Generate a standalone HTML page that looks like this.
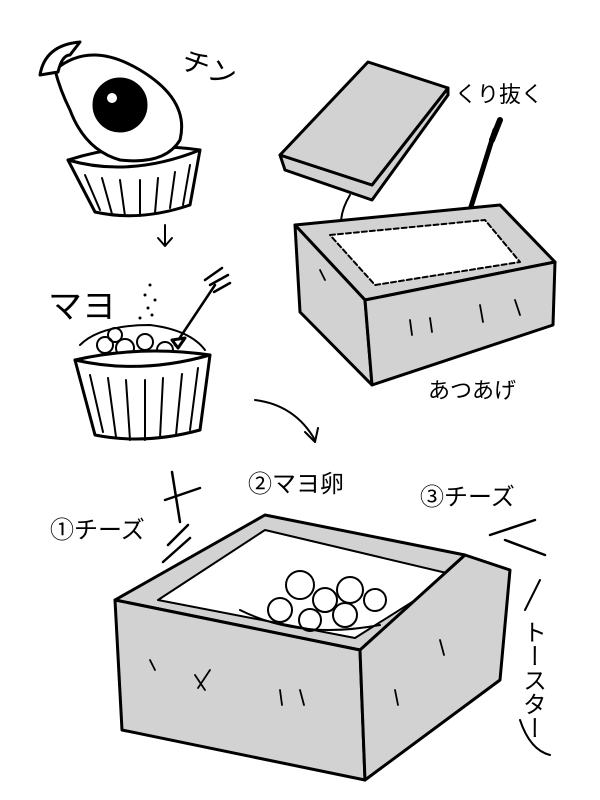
<!DOCTYPE html>
<html><head><meta charset="utf-8"><style>
html,body{margin:0;padding:0;background:#fff;width:600px;height:800px;overflow:hidden}
text{font-family:"Liberation Sans","Noto Sans CJK JP",sans-serif;fill:#000}
</style></head><body>
<svg width="600" height="800" viewBox="0 0 600 800" xmlns="http://www.w3.org/2000/svg" fill="none" stroke="#000" stroke-width="3" stroke-linecap="round" stroke-linejoin="round">
<!-- cup 1 -->
<path d="M68 160 Q130 140 200 150 L190 205 Q140 222 95 212 Z" fill="#fff"/>
<path d="M68 160 Q130 178 200 150" />
<g stroke-width="2"><path d="M85 175 L100 210 M102 178 L112 214 M120 180 L125 216 M140 180 L140 216 M158 178 L155 213 M175 172 L170 208 M190 165 L183 205"/></g>
<!-- egg -->
<path d="M55 70 Q90 40 140 70 Q190 100 180 140 Q165 165 120 160 Q85 150 70 110 Q60 90 55 70 Z" fill="#fff"/>
<circle cx="120" cy="105" r="26" fill="#000"/>
<circle cx="112" cy="98" r="5" fill="#fff" stroke="none"/>
<path d="M40 75 Q45 45 80 42 L70 55 Q62 55 58 72 Z" fill="#fff"/>
<text x="180" y="75" font-size="28" stroke="none" transform="rotate(20 200 70)">チン</text>
<path d="M165 225 L165 245 M158 238 L165 246 L172 238" stroke-width="2"/>
<!-- mayo cup -->
<text x="48" y="318" font-size="34" stroke="none">マヨ</text>
<g fill="#000" stroke="none"><circle cx="150" cy="285" r="1.5"/><circle cx="145" cy="295" r="1.5"/><circle cx="155" cy="300" r="1.5"/><circle cx="148" cy="308" r="1.5"/><circle cx="140" cy="318" r="1.5"/><circle cx="152" cy="315" r="1.5"/></g>
<path d="M80 345 Q100 325 150 325 Q190 330 205 350" fill="#fff" stroke-width="2"/>
<g stroke-width="2"><circle cx="105" cy="345" r="8"/><circle cx="125" cy="348" r="9"/><circle cx="145" cy="342" r="8"/><circle cx="165" cy="350" r="8"/><circle cx="115" cy="335" r="7"/></g>
<path d="M75 360 Q140 345 210 355 L200 430 Q145 445 95 435 Z" fill="#fff"/>
<path d="M75 360 Q140 375 210 355"/>
<g stroke-width="2"><path d="M90 375 L103 432 M108 378 L116 437 M126 380 L130 440 M145 380 L145 440 M163 378 L160 438 M182 374 L176 435 M198 368 L190 430"/></g>
<path d="M175 345 L215 285 M205 280 L222 268 M210 285 L228 275 M214 292 L230 283" stroke-width="2.5"/>
<path d="M172 340 L178 348 L185 338 Z" fill="#fff"/>
<!-- lid -->
<path d="M280 155 L285 170 L372 200 L448 95 L448 88 L372 185 Z" fill="#d2d2d2"/>
<path d="M280 155 L368 62 L448 88 L372 185 Z" fill="#d2d2d2"/>
<text x="455" y="102" font-size="22" stroke="none">くり抜く</text>
<path d="M470 210 L495 130" stroke-width="5"/>
<path d="M492 140 L500 120" stroke-width="6"/>
<path d="M350 195 Q335 220 345 240" stroke-width="2"/>
<!-- small box -->
<path d="M295 225 L500 205 L555 262 L365 300 Z" fill="#d2d2d2"/>
<path d="M330 235 L485 220 L520 262 L375 285 Z" fill="#fff" stroke-width="2" stroke-dasharray="5 3"/>
<path d="M295 225 L365 300 L372 385 L300 312 Z" fill="#d2d2d2"/>
<path d="M365 300 L555 262 L553 325 L372 385 Z" fill="#d2d2d2"/>
<g stroke-width="1.8"><path d="M410 320 L412 335 M430 318 L432 332 M480 305 L483 322 M515 300 L520 315 M320 270 L325 280"/></g>
<text x="428" y="398" font-size="22" stroke="none">あつあげ</text>
<!-- curved arrow -->
<path d="M255 400 Q295 405 315 440 M305 432 L315 442 L318 428" stroke-width="2"/>
<!-- labels -->
<text x="248" y="492" font-size="24" stroke="none">②マヨ卵</text>
<text x="420" y="505" font-size="24" stroke="none">③チーズ</text>
<text x="50" y="538" font-size="24" stroke="none">①チーズ</text>
<path d="M172 472 L180 522 M165 500 L200 488 M168 545 L188 525 M163 562 L190 538" stroke-width="2.5"/>
<path d="M490 535 L535 520 M505 540 L545 555" stroke-width="2.5"/>
<!-- big box -->
<path d="M115 600 L265 515 L465 555 L360 650 Z" fill="#d2d2d2"/>
<path d="M158 600 L265 530 L455 575 L355 638 Z" fill="#fff" stroke-width="2"/>
<path d="M115 600 L360 650 L365 780 L122 730 Z" fill="#d2d2d2"/>
<path d="M360 650 L465 555 L510 570 L500 680 L365 780 Z" fill="#d2d2d2"/>
<g stroke-width="2"><circle cx="300" cy="585" r="14"/><circle cx="325" cy="600" r="12"/><circle cx="350" cy="590" r="13"/><circle cx="280" cy="610" r="12"/><circle cx="310" cy="620" r="11"/><circle cx="345" cy="615" r="12"/><circle cx="375" cy="600" r="11"/><path d="M240 610 Q300 640 380 625"/></g>
<g stroke-width="1.8"><path d="M195 675 L205 690 M210 670 L198 688 M280 690 L282 705 M300 690 L304 705 M395 690 L398 705 M440 640 L444 655 M150 660 L155 670"/></g>
<text x="532" y="620" font-size="24" stroke="none" writing-mode="tb">トースター</text>
<path d="M540 580 L525 610 M520 720 Q530 750 550 755" stroke-width="2"/>
</svg>
</body></html>
